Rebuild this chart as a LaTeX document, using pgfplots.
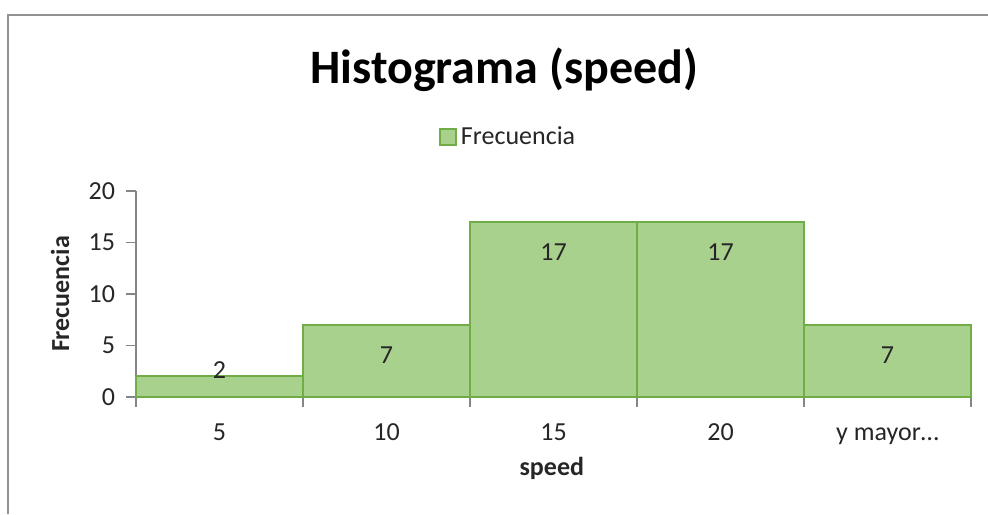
\documentclass[border=0pt]{standalone}
\usepackage{pgfplots}
\pgfplotsset{compat=1.18}
\usepackage{fontspec}
\setmainfont{Carlito}
\definecolor{barfill}{HTML}{A9D18E}
\definecolor{bardraw}{HTML}{70AD47}
\definecolor{axgray}{HTML}{868686}
\definecolor{txt}{HTML}{262626}
\begin{document}
\begin{tikzpicture}
\useasboundingbox (0,0) rectangle (494pt,-257pt);
\draw[color=axgray!90, line width=1pt] (4pt,-257pt) -- (4pt,-7.5pt) -- (494pt,-7.5pt);
\begin{axis}[
  at={(68pt,-198.5pt)}, anchor=south west,
  scale only axis, width=417.5pt, height=103pt,
  xmin=-0.5, xmax=4.5, ymin=0, ymax=20,
  clip=false,
  axis x line=bottom, axis y line=left,
  axis line style={-, color=axgray, line width=0.8pt},
  /pgf/number format/assume math mode=true,
  font=\fontsize{13}{15}\selectfont,
  every tick label/.append style={color=txt},
  ytick={0,5,10,15,20},
  ytick style={color=axgray, line width=0.6pt},
  yticklabel style={xshift=-2pt},
  tick align=outside, major tick length=5pt,
  xtick={0,1,2,3,4},
  xticklabels={5,10,15,20,{y mayor\ldots}},
  x tick style={draw=none},
  xticklabel style={yshift=-4pt, text height=9pt, text depth=3pt},
  extra x ticks={-0.5,0.5,1.5,2.5,3.5,4.5},
  extra x tick labels={},
  extra x tick style={x tick style={draw=axgray, line width=0.6pt}},
  xlabel={\textbf{speed}},
  xlabel style={at={(axis description cs:0.498,-0.379)}, anchor=base, color=txt},
  ylabel={\textbf{Frecuencia}},
  ylabel style={at={(axis description cs:-0.091,0.5)}, anchor=center, rotate=0, color=txt},
  title={\fontsize{24}{28}\selectfont\bfseries Histograma (speed)},
  title style={at={(axis description cs:0.441,1.462)}, anchor=base, color=black},
  legend style={draw=none, fill=none, at={(axis description cs:0.447,1.262)}, anchor=center, font=\fontsize{13}{15}\selectfont\color{txt}},
  legend image code/.code={\draw[#1, line width=0.8pt] (0pt,-4pt) rectangle (8pt,4pt);},
]
\addplot[ybar, bar width=1, bar shift=0pt, fill=barfill, draw=bardraw, line width=1pt] table[x=x, y=y] {
x y
0 2
1 7
2 17
3 17
4 7
};
\addlegendentry{Frecuencia}
\addplot[draw=none, mark=none, forget plot, nodes near coords, point meta=explicit,
  nodes near coords style={anchor=center, color=txt, font=\fontsize{13}{15}\selectfont}]
  table[x=x, y=ly, meta=v] {
x ly v
0 2.62 2
1 4.08 7
2 14.08 17
3 14.08 17
4 4.08 7
};
\end{axis}
\end{tikzpicture}
\end{document}
